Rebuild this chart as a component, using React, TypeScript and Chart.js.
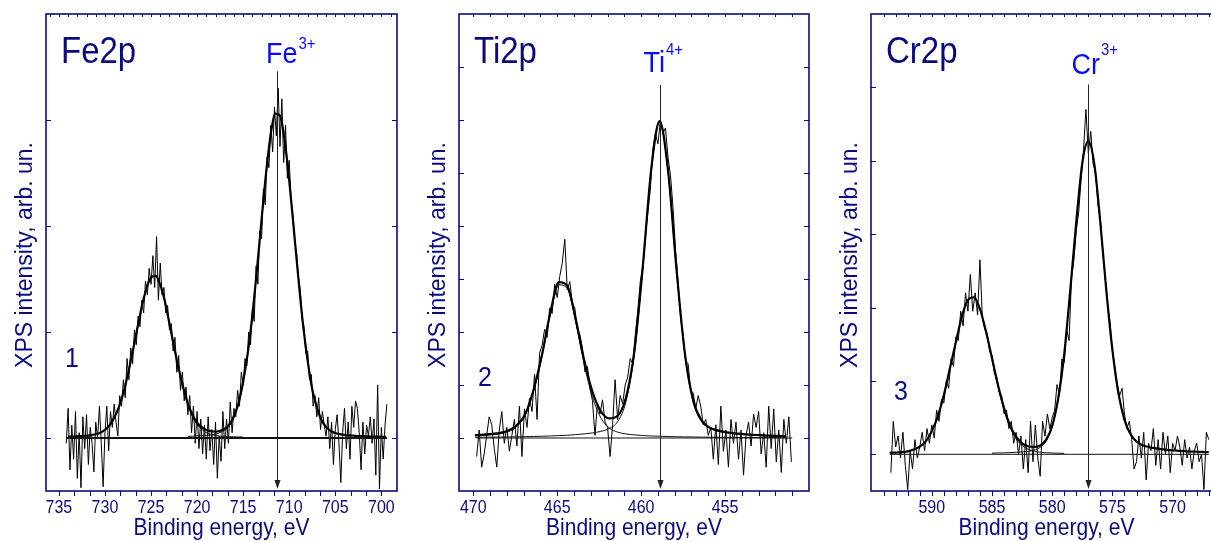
import React, { useEffect, useRef } from 'react';
import { Chart, registerables } from 'chart.js';
Chart.register(...registerables);

// ===================== DATA =====================
// ---- Fe2p (panel 1) ----
const feDataStart = 734.2;
const feDataStep = 0.2;
const feIntensity = [
  -0.05, 0.28, -0.30, 0.12, -0.20,
  0.25, -0.38, 0.05, -0.47, 0.20,
  -0.10, 0.22, -0.25, 0.10, -0.05,
  -0.32, 0.15, 0.00, 0.30, -0.05,
  -0.46, 0.05, 0.30, -0.12, 0.25,
  0.10, 0.32, 0.15, 0.02, 0.40,
  0.30, 0.55, 0.38, 0.75, 0.55,
  0.85, 0.70, 1.02, 0.88, 1.15,
  1.05, 1.30, 1.18, 1.48, 1.35,
  1.60, 1.45, 1.72, 1.42, 1.90,
  1.30, 1.65, 1.35, 1.42, 1.18,
  1.25, 1.02, 1.08, 0.82, 0.95,
  0.62, 0.78, 0.45, 0.62, 0.35,
  0.48, 0.22, 0.40, 0.05, 0.30,
  -0.05, 0.25, -0.10, 0.18, -0.15,
  0.12, -0.20, 0.20, -0.12, 0.08,
  -0.25, 0.15, -0.38, 0.02, -0.22,
  0.25, -0.10, 0.18, -0.05, 0.34,
  0.05, 0.28, 0.20, 0.45, 0.30,
  0.62, 0.50, 0.75, 0.68, 1.00,
  0.88, 1.22, 1.10, 1.62, 1.45,
  1.95, 1.88, 2.35, 2.20, 2.65,
  2.55, 2.95, 2.70, 3.12, 2.85,
  3.30, 2.75, 3.20, 2.60, 2.95,
  2.45, 2.62, 2.25, 2.10, 1.85,
  1.75, 1.52, 1.40, 1.12, 1.05,
  0.80, 0.82, 0.55, 0.60, 0.30,
  0.40, 0.20, 0.38, 0.08, 0.25,
  0.12, 0.02, 0.20, -0.10, 0.15,
  -0.25, 0.08, 0.22, -0.05, -0.42,
  0.05, 0.28, -0.10, 0.15, -0.20,
  0.30, 0.10, 0.35, 0.28, 0.05,
  -0.30, 0.15, -0.15, 0.12, 0.02,
  0.20, -0.05, 0.18, -0.35, 0.50,
  -0.48, 0.10, -0.20, 0.12, 0.32,
];
const feFitStart = 734.0;
const feFitStep = 0.5;
const feFit = [
  0.013, 0.014, 0.015, 0.018, 0.021, 0.027, 0.035, 0.05, 0.078, 0.12,
  0.19, 0.29, 0.425, 0.605, 0.81, 1.03, 1.24, 1.41, 1.515, 1.53,
  1.445, 1.29, 1.08, 0.86, 0.655, 0.475, 0.325, 0.22, 0.144, 0.103,
  0.075, 0.064, 0.06, 0.069, 0.089, 0.126, 0.205, 0.33, 0.53, 0.80,
  1.155, 1.59, 2.06, 2.51, 2.87, 3.06, 3.04, 2.81, 2.43, 1.97,
  1.50, 1.07, 0.73, 0.46, 0.29, 0.17, 0.105, 0.068, 0.047, 0.037,
  0.029, 0.025, 0.022, 0.019, 0.017, 0.015, 0.014, 0.013, 0.012, 0.011,
];
const feValleyEnergy = [721, 720.5, 720, 719.5, 719, 718.5, 718, 717.5, 717, 716.5, 716, 715.5, 715];
const feComp32 = [0.016, 0.017, 0.02, 0.022, 0.025, 0.03, 0.037, 0.051, 0.074, 0.114, 0.194, 0.32, 0.52];
const feComp12 = [0.31, 0.20, 0.124, 0.081, 0.05, 0.034, 0.023, 0.018, 0.015, 0.012, 0.011, 0.010, 0.009];
const feBaseEnergy = [734.2, 699.4];
const feBaseValue = [0, 0];
const feTickLabels = [735, 730, 725, 720, 715, 710, 705, 700];
const feMarker = 711.3;

// ---- Ti2p (panel 2) ----
const tiDataStart = 469.8;
const tiDataStep = 0.15;
const tiIntensity = [
  -0.35, 0.15, -0.55, -0.30, 0.05, 0.40,
  0.25, -0.20, -0.55, 0.15, 0.50, -0.10,
  0.20, -0.25, 0.05, 0.35, -0.15, 0.60,
  -0.35, 0.55, 0.20, 0.75, 0.50, 1.20,
  0.35, 1.60, 1.75, 2.05, 1.90, 2.45,
  2.35, 2.90, 2.65, 3.05, 3.30, 3.75,
  2.80, 2.95, 2.55, 2.45, 2.05, 1.95,
  1.70, 1.25, 1.35, 0.95, 0.70, 0.05,
  0.65, 0.45, 0.72, 0.30, 0.20, -0.35,
  0.25, 1.10, 0.35, 0.80, 0.65, 1.00,
  1.15, 1.50, 1.40, 1.95, 2.40, 2.95,
  3.25, 3.80, 4.25, 4.70, 5.45, 5.75,
  5.55, 6.00, 5.75, 5.85, 5.30, 4.95,
  4.35, 3.55, 2.95, 2.25, 1.95, 1.45,
  1.40, 0.90, 0.85, 0.55, 0.80, 0.60,
  0.25, 0.35, 0.05, 0.20, -0.40, 0.25,
  -0.50, 0.60, -0.25, 0.15, -0.55, 0.35,
  -0.10, 0.30, -0.40, 0.15, -0.70, 0.05,
  0.30, -0.15, 0.45, 0.20, 0.50, -0.30,
  0.10, -0.55, 0.60, -0.20, 0.55, -0.45,
  0.15, -0.65, 0.35, -0.10, 0.40, -0.45,
];
const tiFitStart = 469.9;
const tiFitStep = 0.5;
const tiFit = [
  0.054, 0.062, 0.078, 0.098, 0.14, 0.242, 0.455, 0.92, 1.58, 2.38,
  2.94, 2.87, 2.25, 1.48, 0.87, 0.505, 0.37, 0.42, 0.77, 1.65,
  3.24, 5.07, 5.98, 5.06, 3.21, 1.61, 0.71, 0.33, 0.195, 0.14,
  0.108, 0.088, 0.074, 0.061, 0.054, 0.046, 0.04, 0.036,
];
const tiComp32 = [
  0.014, 0.015, 0.016, 0.018, 0.02, 0.022, 0.025, 0.029, 0.033, 0.038,
  0.045, 0.052, 0.064, 0.077, 0.096, 0.125, 0.18, 0.31, 0.69, 1.59,
  3.19, 5.03, 5.95, 5.03, 3.19, 1.59, 0.69, 0.31, 0.18, 0.125,
  0.096, 0.077, 0.064, 0.052, 0.045, 0.038, 0.033, 0.029,
];
const tiComp12 = [
  0.04, 0.047, 0.062, 0.08, 0.12, 0.22, 0.43, 0.89, 1.55, 2.34,
  2.89, 2.82, 2.19, 1.40, 0.77, 0.38, 0.19, 0.11, 0.077, 0.059,
  0.046, 0.038, 0.033, 0.028, 0.024, 0.021, 0.019, 0.017, 0.015, 0.014,
  0.012, 0.011, 0.010, 0.009, 0.0085, 0.008, 0.0075, 0.007,
];
const tiBaseEnergy = [469.8, 451.0];
const tiBaseValue = [0, 0];
const tiTickLabels = [470, 465, 460, 455];
const tiMarker = 458.9;

// ---- Cr2p (panel 3) ----
const crDataStart = 593.4;
const crDataStep = 0.2;
const crIntensity = [
  -0.25, 0.45, 0.10, 0.25, -0.05,
  0.30, -0.15, -0.48, 0.05, -0.20,
  0.20, -0.05, 0.10, 0.30, 0.05,
  0.35, 0.15, 0.40, 0.22, 0.60,
  0.45, 0.75, 0.70, 1.00, 0.90,
  1.30, 1.20, 1.60, 1.55, 1.95,
  1.75, 2.20, 1.95, 2.45, 1.95,
  2.20, 1.90, 2.65, 1.85, 1.70,
  1.65, 1.40, 1.35, 1.10, 1.05,
  0.85, 0.80, 0.55, 0.60, 0.35,
  0.45, 0.15, 0.30, 0.00, 0.25,
  -0.20, 0.20, -0.25, 0.45, -0.10,
  0.40, -0.05, -0.30, 0.45, 0.25,
  0.55, 0.35, 0.50, 0.60, 0.95,
  0.80, 1.30, 1.25, 1.70, 1.55,
  2.40, 2.65, 3.05, 3.30, 3.75,
  4.15, 4.70, 4.10, 4.40, 3.95,
  3.85, 3.40, 3.20, 2.75, 2.40,
  2.05, 1.80, 1.40, 1.20, 0.95,
  0.80, 0.90, 0.55, 0.35, 0.45,
  0.20, -0.20, -0.10, 0.25, -0.05,
  0.30, -0.35, 0.15, 0.05, 0.35,
  -0.15, 0.20, -0.20, 0.30, 0.00,
  0.25, -0.25, 0.15, 0.05, 0.25,
  0.10, -0.15, 0.20, -0.05, 0.10,
  -0.20, 0.05, 0.15, -0.10, 0.00,
  -0.48, 0.30, 0.20,
];
const crFitStart = 593.5;
const crFitStep = 0.5;
const crFit = [
  0.021, 0.024, 0.029, 0.04, 0.065, 0.105, 0.176, 0.316, 0.517, 0.807,
  1.168, 1.53, 1.88, 2.10, 2.14, 1.98, 1.675, 1.31, 0.94, 0.63,
  0.39, 0.24, 0.15, 0.11, 0.10, 0.12, 0.20, 0.39, 0.765, 1.37,
  2.24, 3.17, 3.97, 4.27, 3.95, 3.15, 2.22, 1.42, 0.83, 0.47,
  0.275, 0.175, 0.125, 0.10, 0.084, 0.07, 0.06, 0.053, 0.048, 0.043,
  0.038, 0.035, 0.032, 0.029,
];
const crValleyEnergy = [585, 584.5, 584, 583.5, 583, 582.5, 582, 581.5, 581, 580.5, 580, 579.5, 579];
const crComp32 = [0.016, 0.018, 0.02, 0.023, 0.027, 0.032, 0.04, 0.058, 0.094, 0.18, 0.37, 0.75, 1.36];
const crComp12 = [1.29, 0.92, 0.61, 0.37, 0.21, 0.12, 0.07, 0.043, 0.028, 0.021, 0.018, 0.015, 0.013];
const crBaseEnergy = [593.5, 567.0];
const crBaseValue = [0, 0];
const crTickLabels = [590, 585, 580, 575, 570];
const crMarker = 577.0;

// ===================== STYLE / LAYOUT =====================
const NAVY = '#0a0a80';
const BLUE = '#0a0aff';
const FONT = '"Liberation Sans", Arial, Helvetica, sans-serif';
const H = 541;
const BOX_TOP = 14;
const BOX_BOTTOM = 491;
const PAD_LEFT = 46;
const PAD_RIGHT = 4;

type Pt = { x: number; y: number };
const regular = (start: number, step: number, ys: number[]): Pt[] =>
  ys.map((y, i) => ({ x: start - i * step, y })).reverse();
const paired = (xs: number[], ys: number[]): Pt[] =>
  xs.map((x, i) => ({ x, y: ys[i] })).reverse();

type PanelDef = {
  boxLeft: number; boxWidth: number;
  xMin: number; xMax: number; yMin: number; yMax: number;
  yTicks: number[]; xLabels: number[]; minorStep: number; minorAnchor: number;
  data: Pt[]; fit: Pt[]; comps: Pt[][]; base: Pt[]; baseWidth: number;
  marker: number; markerTop: number;
  ion: string; charge: string; ionDx: number; ionBase: number; chargeBase: number;
  title: string; num: string; numDx: number; numBase: number;
};

const panels: PanelDef[] = [
  {
    boxLeft: 46, boxWidth: 351, xMin: 698.3, xMax: 736.4, yMin: -0.5, yMax: 4,
    yTicks: [0, 1, 2, 3], xLabels: feTickLabels, minorStep: 5 / 3, minorAnchor: 700,
    data: regular(feDataStart, feDataStep, feIntensity),
    fit: regular(feFitStart, feFitStep, feFit),
    comps: [paired(feValleyEnergy, feComp32), paired(feValleyEnergy, feComp12)],
    base: paired(feBaseEnergy, feBaseValue), baseWidth: 1.8,
    marker: feMarker, markerTop: 3.46,
    ion: 'Fe', charge: '3+', ionDx: -11.5, ionBase: 63, chargeBase: 48.5,
    title: 'Fe2p', num: '1', numDx: 19, numBase: 367,
  },
  {
    boxLeft: 459, boxWidth: 350, xMin: 450.0, xMax: 470.85, yMin: -1, yMax: 8,
    yTicks: [0, 1, 2, 3, 4, 5, 6, 7], xLabels: tiTickLabels, minorStep: 1, minorAnchor: 470,
    data: regular(tiDataStart, tiDataStep, tiIntensity),
    fit: regular(tiFitStart, tiFitStep, tiFit),
    comps: [regular(tiFitStart, tiFitStep, tiComp32), regular(tiFitStart, tiFitStep, tiComp12)],
    base: paired(tiBaseEnergy, tiBaseValue), baseWidth: 1,
    marker: tiMarker, markerTop: 6.66,
    ion: 'Ti', charge: '4+', ionDx: -17, ionBase: 72, chargeBase: 55,
    title: 'Ti2p', num: '2', numDx: 19, numBase: 386,
  },
  {
    boxLeft: 871, boxWidth: 351, xMin: 565.9, xMax: 595.05, yMin: -0.5, yMax: 6,
    yTicks: [0, 1, 2, 3, 4, 5], xLabels: crTickLabels, minorStep: 1, minorAnchor: 590,
    data: regular(crDataStart, crDataStep, crIntensity),
    fit: regular(crFitStart, crFitStep, crFit),
    comps: [paired(crValleyEnergy, crComp32), paired(crValleyEnergy, crComp12)],
    base: paired(crBaseEnergy, crBaseValue), baseWidth: 1,
    marker: crMarker, markerTop: 5.04,
    ion: 'Cr', charge: '3+', ionDx: -17, ionBase: 74, chargeBase: 55,
    title: 'Cr2p', num: '3', numDx: 23, numBase: 400,
  },
];

function stepTicks(min: number, max: number, step: number, anchor: number): number[] {
  const out: number[] = [];
  const k0 = Math.ceil((min - anchor) / step - 1e-6);
  for (let k = k0; anchor + k * step <= max + 1e-6; k++) out.push(anchor + k * step);
  return out;
}

function txt(ctx: CanvasRenderingContext2D, s: string, x: number, y: number, size: number,
  color: string, align: CanvasTextAlign = 'left', sy = 1.12, rot = 0) {
  ctx.save();
  ctx.translate(x, y);
  if (rot) ctx.rotate(rot);
  ctx.scale(1, sy);
  ctx.font = `${size}px ${FONT}`;
  ctx.fillStyle = color;
  ctx.textAlign = align;
  ctx.textBaseline = 'alphabetic';
  ctx.fillText(s, 0, 0);
  ctx.restore();
}

function makeDecor(p: PanelDef) {
  return {
    id: 'decor',
    afterDraw(chart: any) {
      const { ctx, chartArea: a } = chart;
      const xs = chart.scales.x;
      const ys = chart.scales.y;
      const span = Math.abs(p.xMax - p.xMin);
      ctx.save();
      // ticks
      ctx.strokeStyle = NAVY;
      ctx.lineWidth = 1;
      ctx.beginPath();
      const inside = (v: number) => v > p.xMin + 0.002 * span && v < p.xMax - 0.002 * span;
      const minors = stepTicks(p.xMin, p.xMax, p.minorStep, p.minorAnchor)
        .filter((v) => inside(v) && !p.xLabels.some((m) => Math.abs(m - v) < 1e-3));
      for (const v of [...p.xLabels, ...minors]) {
        const px = Math.round(xs.getPixelForValue(v)) + 0.5;
        ctx.moveTo(px, a.bottom); ctx.lineTo(px, a.bottom + 5);
      }
      for (const v of stepTicks(p.xMin, p.xMax, 1, 0).filter(inside)) {
        const px = Math.round(xs.getPixelForValue(v)) + 0.5;
        ctx.moveTo(px, a.top); ctx.lineTo(px, a.top + 3);
      }
      for (const v of p.yTicks) {
        const py = Math.round(ys.getPixelForValue(v)) + 0.5;
        ctx.moveTo(a.left, py); ctx.lineTo(a.left + 5, py);
        ctx.moveTo(a.right, py); ctx.lineTo(a.right - 5, py);
      }
      ctx.stroke();
      // frame
      ctx.lineWidth = 1.6;
      ctx.strokeRect(a.left, a.top, a.right - a.left, a.bottom - a.top);
      // marker arrow
      const mx = Math.round(xs.getPixelForValue(p.marker)) + 0.5;
      const mTop = ys.getPixelForValue(p.markerTop);
      const tip = a.bottom - 2;
      ctx.strokeStyle = '#222';
      ctx.fillStyle = '#222';
      ctx.lineWidth = 1;
      ctx.beginPath();
      ctx.moveTo(mx, mTop); ctx.lineTo(mx, tip - 6);
      ctx.stroke();
      ctx.beginPath();
      ctx.moveTo(mx, tip); ctx.lineTo(mx - 3, tip - 9); ctx.lineTo(mx + 3, tip - 9); ctx.closePath();
      ctx.fill();
      // tick labels
      for (const v of p.xLabels) {
        txt(ctx, String(v), xs.getPixelForValue(v), 513, 16, NAVY, 'center', 1.15);
      }
      // axis titles
      txt(ctx, 'Binding energy, eV', (a.left + a.right) / 2, 535, 21, NAVY, 'center', 1.12);
      txt(ctx, 'XPS intensity, arb. un.', a.left - 14.5, 255, 23, NAVY, 'center', 1.08, -Math.PI / 2);
      // panel title and number
      txt(ctx, p.title, a.left + 15, 63, 33, NAVY, 'left', 1.12);
      txt(ctx, p.num, a.left + p.numDx, p.numBase, 25, NAVY, 'left', 1.12);
      // ion label with superscript
      ctx.font = `27px ${FONT}`;
      const w = ctx.measureText(p.ion).width;
      const lx = mx + p.ionDx;
      txt(ctx, p.ion, lx, p.ionBase, 27, BLUE, 'left', 1.12);
      txt(ctx, p.charge, lx + w + 1, p.chargeBase, 15, BLUE, 'left', 1.12);
      ctx.restore();
    },
  };
}

function Panel({ p }: { p: PanelDef }) {
  const ref = useRef<HTMLCanvasElement>(null);
  const width = PAD_LEFT + p.boxWidth + PAD_RIGHT;
  useEffect(() => {
    const canvas = ref.current;
    if (!canvas) return;
    const hidden = { display: false };
    const chart = new Chart(canvas, {
      type: 'scatter',
      data: {
        datasets: [
          { data: p.fit, showLine: true, borderColor: '#000', borderWidth: 2.2, pointRadius: 0, cubicInterpolationMode: 'monotone' } as any,
          ...p.comps.map((c) => ({ data: c, showLine: true, borderColor: '#111', borderWidth: 1, pointRadius: 0, cubicInterpolationMode: 'monotone' } as any)),
          { data: p.base, showLine: true, borderColor: '#111', borderWidth: p.baseWidth, pointRadius: 0 },
          { data: p.data, showLine: true, borderColor: '#000', borderWidth: 1, pointRadius: 0, tension: 0 },
        ],
      },
      options: {
        responsive: false,
        animation: false,
        events: [],
        layout: { padding: 0 },
        plugins: { legend: { display: false }, tooltip: { enabled: false } },
        scales: {
          x: {
            type: 'linear', position: 'bottom', min: p.xMin, max: p.xMax, reverse: true,
            ticks: hidden, grid: hidden, border: hidden,
            afterFit: (s: any) => { s.height = H - BOX_BOTTOM; },
          },
          xTop: {
            type: 'linear', position: 'top', min: p.xMin, max: p.xMax, reverse: true,
            ticks: hidden, grid: hidden, border: hidden,
            afterFit: (s: any) => { s.height = BOX_TOP; },
          },
          y: {
            type: 'linear', position: 'left', min: p.yMin, max: p.yMax,
            ticks: hidden, grid: hidden, border: hidden,
            afterFit: (s: any) => { s.width = PAD_LEFT; },
          },
          yRight: {
            type: 'linear', position: 'right', min: p.yMin, max: p.yMax,
            ticks: hidden, grid: hidden, border: hidden,
            afterFit: (s: any) => { s.width = PAD_RIGHT; },
          },
        },
      } as any,
      plugins: [makeDecor(p)],
    });
    return () => chart.destroy();
  }, [p]);
  return (
    <canvas
      ref={ref}
      width={width}
      height={H}
      style={{ position: 'absolute', left: p.boxLeft - PAD_LEFT, top: 0, width, height: H }}
    />
  );
}

export default function App() {
  return (
    <div style={{ position: 'absolute', left: 0, top: 0, width: 1211, height: H, overflow: 'hidden', background: '#fff' }}>
      {panels.map((p, i) => <Panel key={i} p={p} />)}
    </div>
  );
}
